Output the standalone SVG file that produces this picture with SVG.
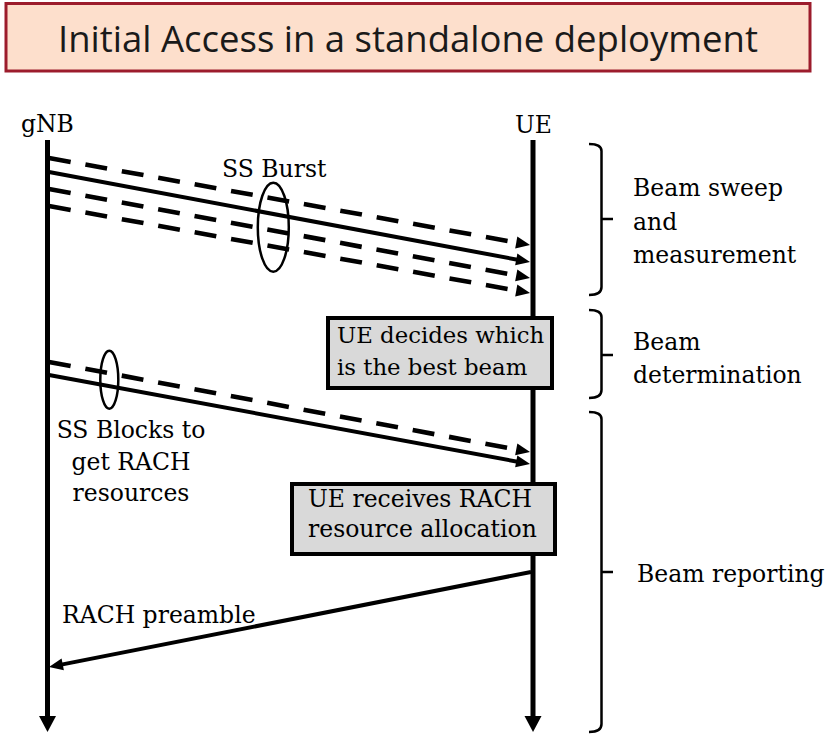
<svg xmlns="http://www.w3.org/2000/svg" width="831" height="735" viewBox="0 0 831 735">
  <style>
    .life { stroke: #000; stroke-width: 5; fill: none; }
    .msg { stroke: #000; stroke-width: 4; fill: none; }
    .dash { stroke: #000; stroke-width: 4.6; fill: none; stroke-dasharray: 22 15; }
    .ring { stroke: #000; stroke-width: 2.5; fill: none; }
    .brace { stroke: #000; stroke-width: 2.5; fill: none; }
    .note { fill: #d9d9d9; stroke: #000; stroke-width: 4; }
  </style>
  <defs>
    <marker id="head" markerUnits="userSpaceOnUse" markerWidth="14" markerHeight="12" refX="4" refY="6" orient="auto" overflow="visible">
      <path d="M0,0 L14,6 L0,12 Z" fill="#000"/>
    </marker>
  </defs>

  <!-- title banner -->
  <g id="title">
    <rect x="6" y="3.5" width="804" height="67.5" fill="#fddfcc" stroke="#9c1c2c" stroke-width="3"/>
    <text font-family="Open Sans" font-size="37" fill="#1a1a1a" x="58" y="52" textLength="700" lengthAdjust="spacingAndGlyphs">Initial Access in a standalone deployment</text>
  </g>

  <!-- labels share one serif face -->
  <g font-family="DejaVu Serif" font-size="23.5" fill="#000">

  <!-- lifelines -->
  <g id="gNB">
    <text x="21" y="132">gNB</text>
    <line class="life" x1="47.5" y1="140" x2="47.5" y2="718"/>
    <path d="M39,716 L56,716 L47.5,732 Z" fill="#000"/>
  </g>
  <g id="UE">
    <text x="515" y="133">UE</text>
    <line class="life" x1="533" y1="140" x2="533" y2="718"/>
    <path d="M524.5,716 L541.5,716 L533,732 Z" fill="#000"/>
  </g>

  <!-- messages -->
  <g id="connectors">
    <!-- SS burst sweep -->
    <line class="dash" x1="49" y1="158" x2="520.2" y2="243.2" marker-end="url(#head)"/>
    <line class="msg" x1="49" y1="172" x2="520.2" y2="260.2" marker-end="url(#head)"/>
    <line class="dash" x1="49" y1="189" x2="520.2" y2="276.2" marker-end="url(#head)"/>
    <line class="dash" x1="49" y1="206" x2="520.2" y2="291.2" marker-end="url(#head)"/>
    <!-- SS blocks for RACH resources -->
    <line class="dash" x1="49" y1="362" x2="520.2" y2="450.2" marker-end="url(#head)"/>
    <line class="msg" x1="49" y1="375" x2="520.2" y2="462.2" marker-end="url(#head)"/>
    <!-- RACH preamble uplink -->
    <line class="msg" x1="531" y1="572" x2="58.8" y2="665.1" marker-end="url(#head)"/>
  </g>

  <!-- beam groupings -->
  <g id="ss-burst">
    <ellipse class="ring" cx="273.3" cy="227.2" rx="15.5" ry="44.5"/>
    <text x="222" y="177">SS Burst</text>
  </g>
  <g id="ss-blocks">
    <ellipse class="ring" cx="109.3" cy="379.7" rx="9" ry="29"/>
    <text text-anchor="middle" x="131" y="438">SS Blocks to</text>
    <text text-anchor="middle" x="131" y="470">get RACH</text>
    <text text-anchor="middle" x="131" y="501">resources</text>
  </g>
  <g id="rach-label">
    <text x="62" y="623">RACH preamble</text>
  </g>

  <!-- UE processing notes -->
  <g id="decide-beam">
    <rect class="note" x="328" y="318" width="224" height="70"/>
    <text x="337" y="343" font-size="22.8">UE decides which</text>
    <text x="337" y="375" font-size="22.8">is the best beam</text>
  </g>
  <g id="rach-allocation">
    <rect class="note" x="292" y="484" width="263" height="70"/>
    <text x="308" y="507">UE receives RACH</text>
    <text x="308" y="537">resource allocation</text>
  </g>

  <!-- phase braces -->
  <g id="phase-sweep">
    <path class="brace" d="M589,144 Q601.5,144 601.5,151 V219 H613 M601.5,219 V287 Q601.5,295 589,295"/>
    <text x="633" y="196">Beam sweep</text>
    <text x="633" y="230">and</text>
    <text x="633" y="263">measurement</text>
  </g>
  <g id="phase-determination">
    <path class="brace" d="M589,310 Q601.5,310 601.5,317 V355 H613 M601.5,355 V390 Q601.5,398 589,398"/>
    <text x="633" y="350">Beam</text>
    <text x="633" y="383">determination</text>
  </g>
  <g id="phase-reporting">
    <path class="brace" d="M589,412 Q601.5,412 601.5,419 V572 H613 M601.5,572 V724 Q601.5,732 589,732"/>
    <text x="637" y="582">Beam reporting</text>
  </g>

  </g>
</svg>
